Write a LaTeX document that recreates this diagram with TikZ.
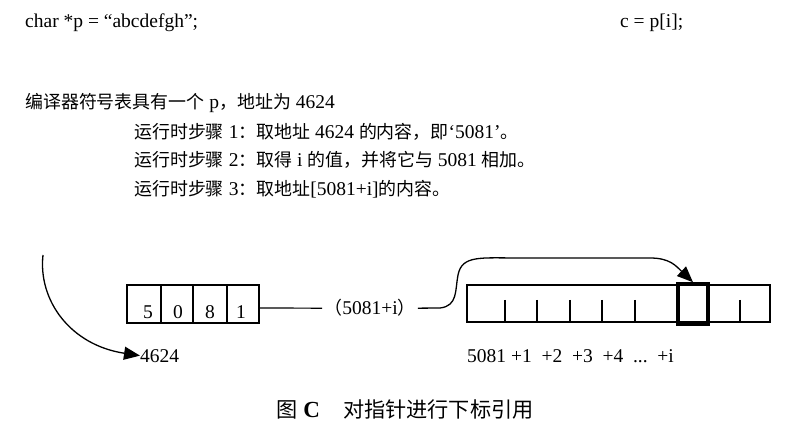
\documentclass[tikz,border=0pt]{standalone}
\usepackage{fontspec}
\setmainfont{Liberation Serif}
\newfontfamily\cjk{Noto Sans CJK SC}[Scale=0.92]
\usetikzlibrary{arrows.meta}
\begin{document}
\begin{tikzpicture}[x=1pt,y=-1pt,
  txt/.style={anchor=base west,inner sep=0pt,font=\fontsize{19.5}{21}\selectfont},
  cell/.style={draw,line width=1.2pt},
  arr/.style={-{Triangle[length=16pt,width=13pt]},line width=1.3pt}]
\useasboundingbox (0,0) rectangle (803,446);
\node[txt] (code1) at (25,28) {char *p = “abcdefgh”;};
\node[txt] (code2) at (620,28) {c = p[i];};
\node[txt] (l1) at (25,109) {{\cjk 编译器符号表具有一个} p{\cjk ，地址为} 4624};
\node[txt] (l2) at (134,139) {{\cjk 运行时步骤} 1{\cjk ：取地址} 4624 {\cjk 的内容，即}‘5081’{\cjk 。}};
\node[txt] (l3) at (134,167) {{\cjk 运行时步骤} 2{\cjk ：取得} i {\cjk 的值，并将它与} 5081 {\cjk 相加。}};
\node[txt] (l4) at (134,196) {{\cjk 运行时步骤} 3{\cjk ：取地址}[5081+i]{\cjk 的内容。}};
% left box
\draw[cell] (127,285) rectangle (259,323);
\foreach \x in {161,193,227} \draw[line width=1.2pt] (\x,285) -- (\x,323);
\node[txt] (d1) at (143,318) {5};
\node[txt] (d2) at (173,318) {0};
\node[txt] (d3) at (205,318) {8};
\node[txt] (d4) at (236,318) {1};
\coordinate (lbr) at (259,308);
\node[txt,anchor=base,inner xsep=2pt] (mid) at (370,315) {{\cjk （}5081+i{\cjk ）}};
\draw[line width=1.2pt] (lbr) -- (mid.west);
% right box
\draw[cell] (467,285) rectangle (770,322);
\foreach \x in {505,537,570,602,635,740} \draw[line width=1.2pt] (\x,300) -- (\x,322);
\node[draw,line width=3.5pt,minimum width=30pt,minimum height=40pt,inner sep=0pt] (hl) at (693,304) {};
\draw[arr] (mid.east) -- (440,308) .. controls (458,306) and (455,290) .. (458,275)
  .. controls (462,255) and (480,258) .. (520,258) -- (650,258)
  .. controls (670,258) and (676,266) .. (hl.north);
\node[txt] (addr) at (140,362) {4624};
\coordinate (top) at (43,255);
\draw[arr] (top) .. controls (38,300) and (70,345) .. (addr.west);
\node[txt] (lab) at (467,362) {5081 +1\ \ +2\ \ +3\ \ +4\ \ ...\ \ +i};
\node[txt,anchor=base,font=\fontsize{23}{25}\selectfont] (cap) at (405,417) {{\cjk 图} \textbf{C}\quad{\cjk 对指针进行下标引用}};
\end{tikzpicture}
\end{document}
